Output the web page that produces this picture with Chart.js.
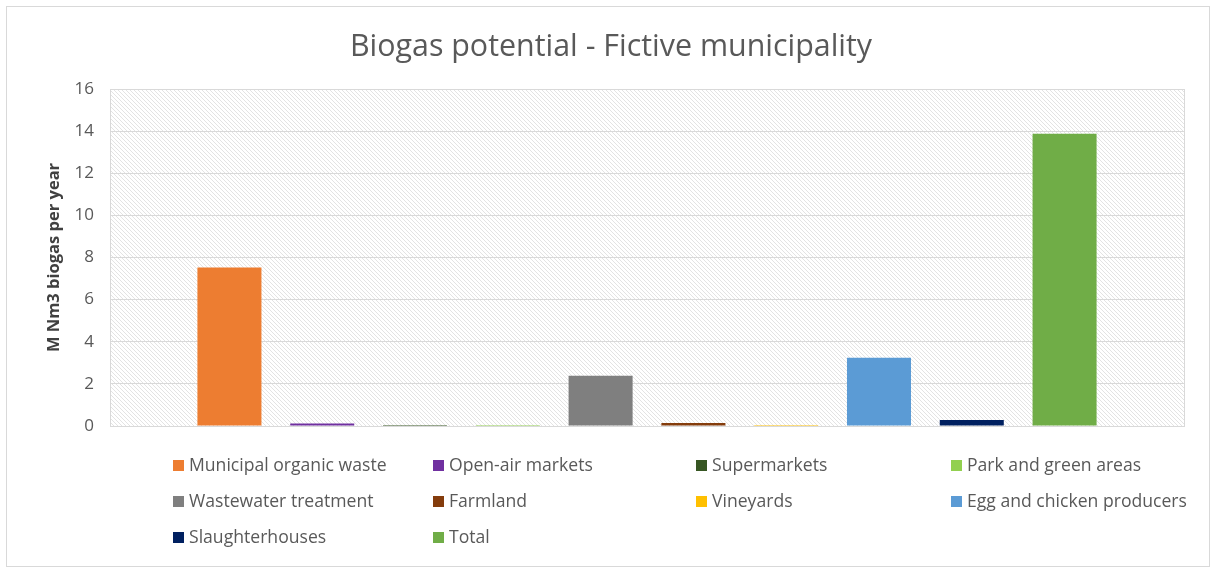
<!DOCTYPE html>
<html>
<head>
<meta charset="utf-8">
<script src="https://cdn.jsdelivr.net/npm/chart.js@4/dist/chart.umd.min.js"></script>
<style>
  html, body { margin: 0; padding: 0; background: #fff; }
  #wrap { position: relative; width: 1213px; height: 568px; }
</style>
</head>
<body>
<div id="wrap"><canvas id="chart"></canvas></div>
<script>
const sources = [
  'Municipal organic waste', 'Open-air markets', 'Supermarkets', 'Park and green areas',
  'Wastewater treatment', 'Farmland', 'Vineyards', 'Egg and chicken producers',
  'Slaughterhouses', 'Total'
];
const biogas = [7.52, 0.12, 0.05, 0.05, 2.39, 0.14, 0.05, 3.24, 0.28, 13.87];
const colors = [
  '#ED7D31', '#7030A0', '#375623', '#92D050', '#7F7F7F',
  '#843C0C', '#FFC000', '#5B9BD5', '#002060', '#70AD47'
];
const yTicks = [0, 2, 4, 6, 8, 10, 12, 14, 16];
const chartTitle = 'Biogas potential - Fictive municipality';

const FONT = "'Open Sans', sans-serif";
const TEXT = '#595959';

// diagonal hatch used as plot area fill
function hatch(ctx) {
  const c = document.createElement('canvas');
  c.width = 4; c.height = 4;
  const p = c.getContext('2d');
  p.fillStyle = '#fff';
  p.fillRect(0, 0, 4, 4);
  p.strokeStyle = '#e3e3e3';
  p.lineWidth = 1;
  p.beginPath();
  p.moveTo(-1, -1); p.lineTo(5, 5);
  p.moveTo(-1, 3); p.lineTo(1, 5);
  p.moveTo(3, -1); p.lineTo(5, 1);
  p.stroke();
  return ctx.createPattern(c, 'repeat');
}

// outer border, hatched plot background and title centred on the whole box
const frame = {
  id: 'frame',
  beforeDraw(chart) {
    const { ctx, chartArea: a } = chart;
    ctx.save();
    ctx.strokeStyle = '#d9d9d9';
    ctx.lineWidth = 1;
    ctx.strokeRect(6.5, 6.5, 1203, 560);
    ctx.fillStyle = hatch(ctx);
    ctx.fillRect(a.left, a.top, a.right - a.left, a.bottom - a.top);
    ctx.strokeStyle = '#d9d9d9';
    ctx.strokeRect(a.left + 0.5, a.top + 0.5, a.right - a.left, a.bottom - a.top);

    ctx.fillStyle = TEXT;
    ctx.font = `30.4px ${FONT}`;
    ctx.textAlign = 'center';
    ctx.textBaseline = 'middle';
    ctx.fillText(chartTitle, 611, 47);
    ctx.restore();
  }
};

// legend laid out in four fixed columns under the plot
const gridLegend = {
  id: 'gridLegend',
  afterDraw(chart) {
    const { ctx } = chart;
    const cols = [173, 433, 696, 951];
    const rows = [465, 501, 537];
    ctx.save();
    ctx.font = `17.6px ${FONT}`;
    ctx.textBaseline = 'middle';
    chart.data.datasets.forEach((ds, i) => {
      const x = cols[i % 4];
      const y = rows[Math.floor(i / 4)];
      ctx.fillStyle = ds.backgroundColor;
      ctx.fillRect(x, y - 5, 11, 11);
      ctx.fillStyle = TEXT;
      ctx.fillText(ds.label, x + 16, y + 1);
    });
    ctx.restore();
  }
};

new Chart(document.getElementById('chart'), {
  type: 'bar',
  data: {
    labels: [''],
    datasets: sources.map((s, i) => ({
      label: s,
      data: [biogas[i]],
      backgroundColor: colors[i],
      borderWidth: 0
    }))
  },
  options: {
    responsive: true,
    maintainAspectRatio: false,
    animation: false,
    layout: { padding: { left: 6, right: 29, top: 89, bottom: 142 } },
    datasets: { bar: { categoryPercentage: 0.864, barPercentage: 0.69 } },
    plugins: {
      legend: { display: false },
      tooltip: { enabled: false },
      title: { display: false }
    },
    scales: {
      x: {
        grid: { display: false },
        ticks: { display: false },
        border: { color: '#d9d9d9' },
        afterFit(scale) { scale.height = 0; }
      },
      y: {
        min: 0,
        max: 16,
        afterBuildTicks(scale) { scale.ticks = yTicks.map(v => ({ value: v })); },
        ticks: { color: TEXT, font: { family: FONT, size: 17 }, padding: 16 },
        grid: { color: '#d9d9d9', drawTicks: false },
        border: { display: false },
        title: {
          display: true,
          text: 'M Nm3 biogas per year',
          color: '#404040',
          font: { family: FONT, size: 16.5, weight: 'bold' },
          padding: { top: 38, bottom: 0 }
        },
        afterFit(scale) { scale.width = 104; }
      }
    }
  },
  plugins: [frame, gridLegend]
});
</script>
</body>
</html>
